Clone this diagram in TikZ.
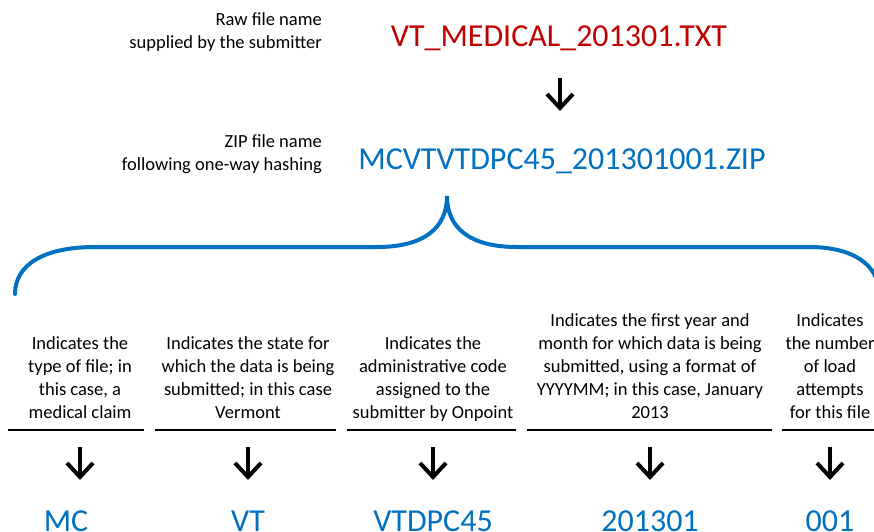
\documentclass[tikz,border=0pt]{standalone}
\usepackage{fontspec}
\setmainfont{Carlito}
\definecolor{rawred}{HTML}{C00000}
\definecolor{zipblue}{HTML}{0070C0}
\begin{document}
\begin{tikzpicture}[x=1pt,y=-1pt,
  note/.style={font=\fontsize{18.5}{22.9}\selectfont, align=center, inner sep=0pt, anchor=base},
  sidetext/.style={font=\fontsize{18.5}{22.9}\selectfont, align=right, inner sep=0pt, anchor=base east},
  bigname/.style={font=\fontsize{32}{38}\selectfont, inner sep=0pt, anchor=base},
  rule/.style={line width=1.5pt},
  glyph/.style={line width=4pt, miter limit=10},
  brace/.style={zipblue, line width=4pt, line cap=round}]
\useasboundingbox (0,0) rectangle (874,531);
\clip (0,0) rectangle (874,531);

% file names and their captions
\node[sidetext] (rawlbl) at (322,48) {Raw file name\\supplied by the submitter};
\node[bigname, rawred] (rawname) at (559,46) {VT\_MEDICAL\_201301.TXT};
\node[sidetext] (ziplbl) at (322,170) {ZIP file name\\following one-way hashing};
\node[bigname, zipblue] (zipname) at (562,169) {MCVTVTDPC45\_201301001.ZIP};

% down arrow between the two names
\coordinate (a0-top) at (560,78);
\coordinate (a0-tip) at (560,108);
\draw[glyph] (a0-top) -- (a0-tip);
\draw[glyph] ([shift={(-13,-14)}]a0-tip) -- (a0-tip) -- ([shift={(13,-14)}]a0-tip);

% curly brace under the ZIP name
\draw[brace] (15,294) .. controls (15,264) and (45,247) .. (95,247) -- (377,247)
  .. controls (424,247) and (447,228) .. (447,196)
  .. controls (447,228) and (470,247) .. (517,247) -- (809,247)
  .. controls (852,247) and (879,264) .. (879,294);

% descriptions of the parts
\node[note] (d1) at (80,418) {Indicates the\\type of file; in\\this case, a\\medical claim};
\node[note] (d2) at (248,418) {Indicates the state for\\which the data is being\\submitted; in this case\\Vermont};
\node[note] (d3) at (433,418) {Indicates the\\administrative code\\assigned to the\\submitter by Onpoint};
\node[note] (d4) at (650,418) {Indicates the first year and\\month for which data is being\\submitted, using a format of\\YYYYMM; in this case, January\\2013};
\node[note] (d5) at (830,418) {Indicates\\the number\\of load\\attempts\\for this file};

% rules under the descriptions
\coordinate (r1a) at (8,430);   \coordinate (r1b) at (144,430);
\coordinate (r2a) at (155,430); \coordinate (r2b) at (336,430);
\coordinate (r3a) at (347,430); \coordinate (r3b) at (516,430);
\coordinate (r4a) at (527,430); \coordinate (r4b) at (772,430);
\coordinate (r5a) at (782,430); \coordinate (r5b) at (880,430);
\foreach \i in {1,...,5} { \draw[rule] (r\i a) -- (r\i b); }

% arrows down to each part
\foreach \i/\x in {1/80,2/248,3/433,4/650,5/830} {
  \coordinate (a\i-top) at (\x,447);
  \coordinate (a\i-tip) at (\x,477);
  \draw[glyph] (a\i-top) -- (a\i-tip);
  \draw[glyph] ([shift={(-13,-14)}]a\i-tip) -- (a\i-tip) -- ([shift={(13,-14)}]a\i-tip);
}

% the parts of the ZIP name
\node[bigname, zipblue] (p1) at (66,531) {MC};
\node[bigname, zipblue] (p2) at (248,531) {VT};
\node[bigname, zipblue] (p3) at (433,531) {VTDPC45};
\node[bigname, zipblue] (p4) at (650,531) {201301};
\node[bigname, zipblue] (p5) at (830,531) {001};
\end{tikzpicture}
\end{document}
